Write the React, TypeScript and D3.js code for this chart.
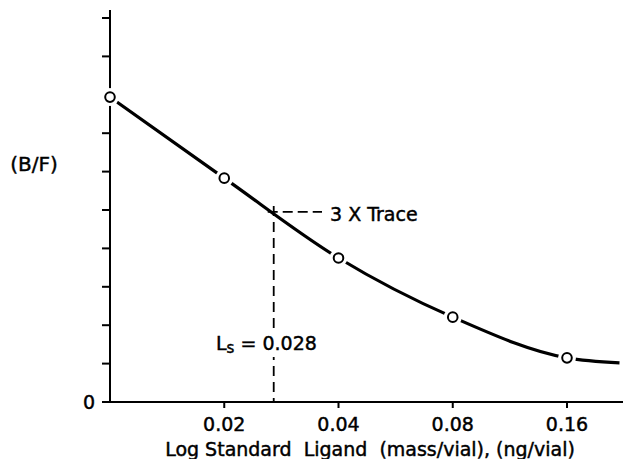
import React from "react";
import * as d3 from "d3";

// standard ligand mass per vial (ng) and bound/free ratio
const doses = [0.01, 0.02, 0.04, 0.08, 0.16];
const ratios = [7.94, 5.83, 3.75, 2.21, 1.15];
// curve keeps going a little past the last standard
const tailDose = 0.22;
const tailRatio = 1.02;

const xTicks = [0.02, 0.04, 0.08, 0.16];
const xTickLabels = ["0.02", "0.04", "0.08", "0.16"];
const yTicks = d3.range(0, 11);

// 3 x trace crossing
const traceRatio = 4.95;
const traceDose = 0.027;
const lsLabel = "0.028";

const W = 625;
const H = 459;
const font = "'DejaVu Sans', sans-serif";

export default function App() {
  const x = d3.scaleLog().domain([0.01, 0.16]).range([110, 567]);
  const y = d3.scaleLinear().domain([0, 10]).range([402, 18]);

  const pts: [number, number][] = doses.map((d, i) => [x(d), y(ratios[i])]);
  pts.push([x(tailDose), y(tailRatio)]);

  const line = d3.line().curve(d3.curveMonotoneX);

  const cx = x(traceDose);
  const cy = y(traceRatio);

  // text drawn slightly heavy, like the original lettering
  const txt = { fill: "#000", stroke: "#000", strokeWidth: 0.45 };

  return (
    <svg
      width={W}
      height={H}
      style={{ position: "absolute", left: 0, top: 0, background: "#fff" }}
      fontFamily={font}
    >
      {/* axes */}
      <line x1={110} x2={110} y1={10} y2={y(0)} stroke="#000" strokeWidth={2} />
      <line x1={110} x2={623} y1={y(0)} y2={y(0)} stroke="#000" strokeWidth={2} />
      {yTicks.map((t) => (
        <line key={t} x1={102} x2={110} y1={y(t)} y2={y(t)} stroke="#000" strokeWidth={2} />
      ))}
      {xTicks.map((t) => (
        <line key={t} x1={x(t)} x2={x(t)} y1={y(0)} y2={y(0) + 6} stroke="#000" strokeWidth={2} />
      ))}
      <text x={89} y={y(0) + 7} fontSize={19} textAnchor="middle" {...txt}>0</text>
      {xTicks.map((t, i) => (
        <text key={t} x={x(t)} y={431} fontSize={19} textAnchor="middle" {...txt}>
          {xTickLabels[i]}
        </text>
      ))}
      <text x={370} y={456} fontSize={19} textAnchor="middle" style={{ whiteSpace: "pre" }} {...txt}>
        {"Log Standard  Ligand  (mass/vial), (ng/vial)"}
      </text>
      <text x={34} y={171} fontSize={20} textAnchor="middle" {...txt}>(B/F)</text>

      {/* trace marker */}
      <line x1={cx} x2={cx} y1={cy - 6} y2={y(0)} stroke="#000" strokeWidth={1.8} strokeDasharray="10,6" />
      <line x1={cx - 6} x2={322} y1={cy} y2={cy} stroke="#000" strokeWidth={1.8} strokeDasharray="10,5" />
      <text x={330} y={221} fontSize={19} {...txt}>3 X Trace</text>
      <rect x={214} y={329} width={102} height={28} fill="#fff" />
      <text x={216} y={350} fontSize={19} {...txt}>
        L<tspan fontSize={15} dy={3}>s</tspan>
        <tspan dy={-3}> = {lsLabel}</tspan>
      </text>

      {/* standard curve */}
      <path d={line(pts) || ""} fill="none" stroke="#000" strokeWidth={3.2} />
      {doses.map((d, i) => (
        <g key={d}>
          <circle cx={x(d)} cy={y(ratios[i])} r={9} fill="#fff" />
          <circle cx={x(d)} cy={y(ratios[i])} r={4.8} fill="#fff" stroke="#000" strokeWidth={2} />
        </g>
      ))}
    </svg>
  );
}
